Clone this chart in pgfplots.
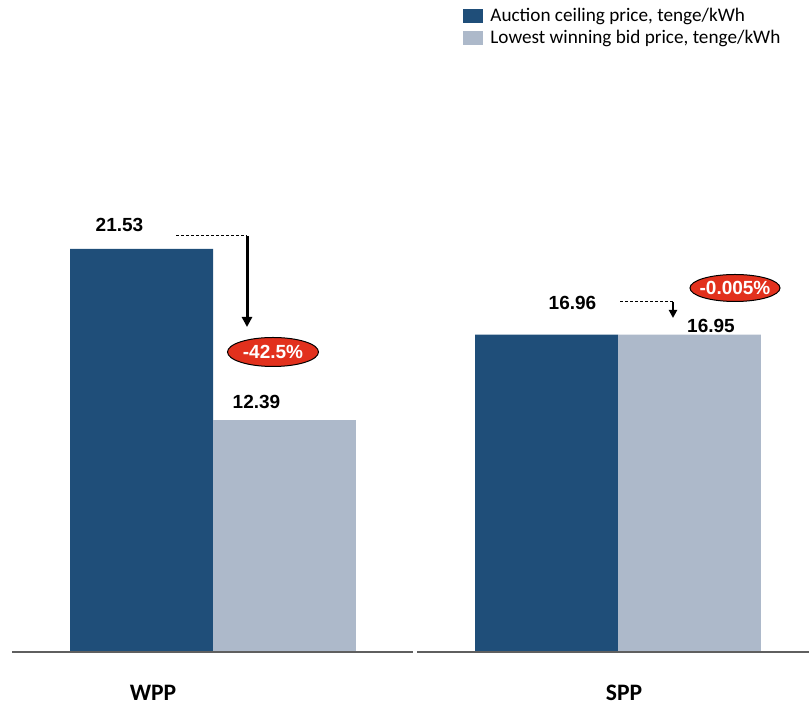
\documentclass[border=0pt]{standalone}
\usepackage{pgfplots}
\pgfplotsset{compat=1.18}
\usepackage{fontspec}
\setmainfont{Liberation Sans}
\newfontfamily\carlito{Carlito}
\newfontfamily\arialb{Liberation Sans}
\usetikzlibrary{arrows.meta}
\definecolor{darkbar}{HTML}{1F4E79}
\definecolor{lightbar}{HTML}{ADB9CA}
\definecolor{redov}{HTML}{E2311D}
\definecolor{axgray}{HTML}{5F5F5F}
\begin{document}
\begin{tikzpicture}
\useasboundingbox (0,0) rectangle (404.5pt,353pt);
\begin{axis}[
  at={(6pt,27pt)}, anchor=south west,
  scale only axis, width=398.5pt, height=326pt,
  xmin=-0.4963, xmax=1.4716, ymin=0, ymax=34.83,
  ybar=0pt, bar width=0.353,
  axis line style={draw=none},
  ytick=\empty,
  xtick={-0.148,1.0148}, xticklabels={WPP,SPP},
  major tick length=0pt,
  xticklabel style={anchor=center, yshift=-20.25pt, font=\carlito\bfseries\fontsize{11.8}{13}\selectfont},
  clip=false,
  legend style={at={(axis description cs:0.5659,0.991)}, anchor=north west, draw=none, fill=none,
    inner sep=0pt, font=\carlito\fontsize{9.6}{11.5}\selectfont, row sep=0.6pt,
    nodes={inner sep=1pt, anchor=west},
    /tikz/every odd column/.append style={column sep=2.5pt}},
  legend cell align=left,
  legend image code/.code={\fill[#1] (0pt,-3.5pt) rectangle (10pt,3.5pt);},
]
\addplot[fill=darkbar, draw=none] coordinates {(0,21.53) (1,16.96)};
\addplot[fill=lightbar, draw=none] coordinates {(0,12.39) (1,16.95)};
\legend{{Auction ceiling price, tenge/kWh}, {Lowest winning bid price, tenge/kWh}}
\draw[axgray, line width=1pt] (axis cs:-0.4963,0) -- (axis cs:0.494,0);
\draw[axgray, line width=1pt] (axis cs:0.504,0) -- (axis cs:1.4716,0);
\end{axis}
\begin{scope}[x=0.5pt,y=-0.5pt,shift={(0,353pt)}]
\tikzset{vl/.style={font=\arialb\bfseries\fontsize{9.5}{11}\selectfont, inner sep=0pt}}
\node[vl] at (119.5,224.5) {21.53};
\node[vl] at (256.5,401.5) {12.39};
\node[vl] at (572.5,303) {16.96};
\node[vl] at (711,325.5) {16.95};
\draw[black, line width=0.5pt, dash pattern=on 1.5pt off 1pt] (176,236) -- (247,236);
\draw[black, line width=1.5pt, -{Triangle[length=5pt,width=5pt]}] (247,236) -- (247,327);
\draw[black, line width=0.5pt, fill=redov] (273,352) ellipse [x radius=45.5, y radius=14.5];
\node[vl, text=white] at (273,352) {-42.5\%};
\draw[black, line width=0.5pt, dash pattern=on 1.5pt off 1pt] (620,302) -- (673,302);
\draw[black, line width=1pt, -{Triangle[length=4pt,width=4pt]}] (673,302) -- (673,318);
\draw[black, line width=0.5pt, fill=redov] (735,288) ellipse [x radius=45, y radius=13.5];
\node[vl, text=white] at (735,288) {-0.005\%};
\end{scope}
\end{tikzpicture}
\end{document}
